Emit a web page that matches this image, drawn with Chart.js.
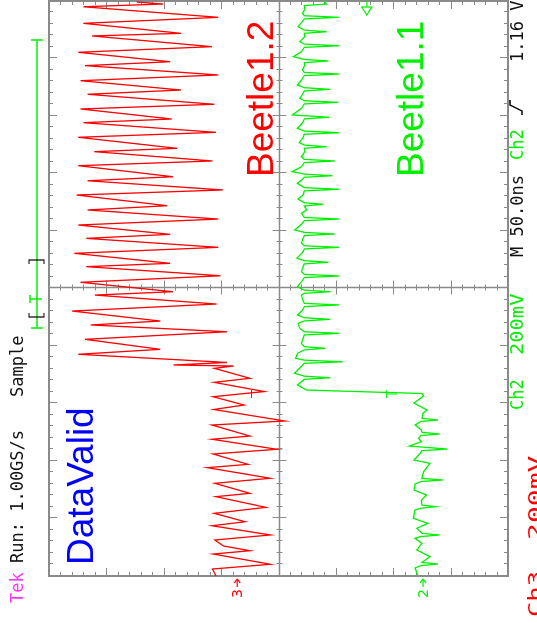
<!DOCTYPE html>
<html>
<head>
<meta charset="utf-8">
<title>Scope capture</title>
<script src="https://cdn.jsdelivr.net/npm/chart.js@4.4.1/dist/chart.umd.min.js"></script>
<style>
  html, body { margin: 0; padding: 0; background: #fff; overflow: hidden; }
  #wrap { position: relative; width: 537px; height: 623px; overflow: hidden; }
  /* the scope screen is shown turned a quarter turn to the left */
  #scope { position: absolute; left: 0; top: 0; transform-origin: 0 0; transform: translate(0, 623px) rotate(-90deg); }
</style>
</head>
<body>
<div id="wrap"><canvas id="scope" width="623" height="537"></canvas></div>
<script>
// Horizontal: 50 ns/div over 10 divisions. Vertical: 8 divisions, 0 = screen centre.
const timeRange = [0, 500];
const levelRange = [-4, 4];

// Ch3 (red, DataValid / Beetle1.2) - trace vertices, time in ns, level in divisions
const redTime = [0, 6.1, 10.2, 19.1, 22.0, 26.1, 31.3, 35.7, 43.7, 47.2,
  54.5, 59.7, 69.0, 71.9, 80.6, 85.0, 94.2, 97.1, 106.1, 110.2,
  118.9, 121.7, 131.3, 134.8, 144.8, 148.7, 155.9, 160.4, 168.4, 171.9,
  180.6, 182.6, 183.5, 185.7, 192.8, 197.1, 205.8, 212.4, 218.3, 221.7,
  230.4, 236.5, 244.3, 247.2, 255.4, 261.1, 269.0, 271.9, 280.6, 285.8,
  293.6, 297.1, 305.2, 310.4, 318.3, 322.0, 331.3, 335.7, 343.7, 347.2,
  356.8, 360.9, 369.0, 371.9, 381.5, 385.8, 394.2, 397.4, 406.1, 410.2,
  418.9, 422.6, 430.7, 435.7, 443.8, 447.2, 455.4, 460.3, 469.6, 471.9,
  480.6, 485.8, 495.0, 497.4, 499.1];
const redLevel = [1.09, 1.15, 0.14, 1.14, 0.50, 0.96, 1.11, 0.14, 1.16, 0.58,
  1.12, 0.22, 1.09, 0.50, 1.11, 0.14, 1.24, 0.53, 1.14, 0.03,
  1.16, 0.50, 1.16, -0.11, 1.13, 0.60, 1.14, 0.25, 1.12, 0.50,
  1.12, 0.78, 1.83, 0.90, 3.49, 2.06, 3.37, 0.90, 3.27, 2.06,
  3.60, 1.08, 3.20, 1.84, 3.45, 1.01, 3.35, 1.89, 3.56, 1.05,
  3.35, 1.89, 3.49, 1.05, 3.33, 1.94, 3.52, 0.97, 3.33, 1.84,
  3.49, 1.15, 3.21, 1.77, 3.49, 1.09, 3.40, 1.86, 3.45, 1.12,
  3.33, 1.70, 3.45, 1.05, 3.37, 1.89, 3.49, 1.16, 3.25, 1.70,
  3.40, 1.05, 3.40, 2.01, 2.47];

// Ch2 (green, Beetle1.1) - low section before the step, then the switching section
const greenTime = [0, 2.6, 7.0, 9.0, 10.4, 11.8, 16.8, 22.6, 28.4, 32.8,
  34.3, 35.7, 37.1, 41.5, 45.8, 50.2, 57.4, 58.9, 60.3, 61.7,
  66.1, 70.4, 74.8, 80.0, 82.1, 83.5, 84.9, 90.7, 98.0, 100.9,
  106.7, 109.0, 110.4, 113.0, 116.8, 119.7, 122.1, 123.5, 124.9, 127.0,
  131.3, 134.3, 135.7, 137.1, 141.7, 144.3, 150.4, 156.5, 158.7,
  161.7, 166.1, 171.0, 172.4, 173.8, 176.3, 184.9, 186.3, 187.7, 189.3,
  193.7, 196.6, 198.0, 199.4, 202.3, 206.7, 209.6, 211.0, 212.4, 215.4,
  219.7, 221.8, 223.2, 224.6, 227.0, 231.3, 234.3, 235.7, 237.1, 239.1,
  244.3, 245.8, 247.2, 248.6, 251.6, 255.9, 259.5, 260.9, 262.3, 264.6,
  269.0, 271.4, 272.8, 274.2, 276.3, 281.5, 284.4, 285.8, 287.2, 289.3,
  293.6, 296.0, 297.4, 298.8, 300.9, 305.8, 309.0, 310.4, 311.8, 315.4,
  318.3, 321.8, 323.2, 324.6, 327.8, 331.3, 334.9, 336.3, 337.7, 341.5,
  344.3, 346.7, 348.1, 349.5, 351.6, 355.9, 359.5, 360.9, 362.3, 364.6,
  369.0, 371.9, 373.3, 374.7, 376.8, 381.5, 384.1, 385.5, 386.9, 389.3,
  394.2, 397.5, 398.9, 400.9, 406.7, 410.5, 411.9, 413.3, 415.4, 419.7,
  421.8, 423.2, 424.6, 427.0, 431.3, 435.1, 436.5, 437.9, 440.0, 444.3,
  446.4, 447.8, 449.2, 451.6, 455.9, 459.7, 461.1, 462.5, 464.6, 469.0,
  471.9, 473.3, 474.7, 477.7, 481.2, 484.4, 485.8, 487.2, 489.3, 492.8,
  496.0, 497.4, 500];
const greenLevel = [-2.43, -2.41, -2.38, -2.48, -2.78, -2.50, -2.64, -2.41, -2.50, -2.38,
  -2.48, -2.81, -2.50, -2.41, -2.60, -2.35, -2.38, -2.48, -2.74, -2.50,
  -2.49, -2.58, -2.36, -2.38, -2.48, -2.86, -2.50, -2.53, -2.64, -2.36,
  -2.47, -2.50, -2.94, -2.28, -2.49, -2.44, -2.48, -2.81, -2.50, -2.49,
  -2.38, -2.48, -2.78, -2.50, -2.52, -2.59, -2.36, -2.53, -2.50,
  -0.49, -0.33, -0.45, -0.90, -0.45, -0.28, -0.45, -1.12, -0.45, -0.30,
  -0.33, -0.45, -0.82, -0.45, -0.40, -0.43, -0.45, -1.06, -0.45, -0.37,
  -0.34, -0.45, -0.90, -0.45, -0.33, -0.42, -0.45, -1.06, -0.45, -0.43,
  -0.40, -0.45, -0.91, -0.45, -0.33, -0.40, -0.45, -1.06, -0.45, -0.40,
  -0.43, -0.45, -0.87, -0.45, -0.32, -0.42, -0.45, -1.06, -0.45, -0.40,
  -0.43, -0.45, -0.98, -0.45, -0.28, -0.40, -0.45, -1.06, -0.45, -0.40,
  -0.49, -0.45, -0.78, -0.45, -0.34, -0.43, -0.45, -1.06, -0.45, -0.33,
  -0.40, -0.45, -0.94, -0.45, -0.24, -0.40, -0.45, -0.98, -0.45, -0.40,
  -0.46, -0.45, -0.84, -0.45, -0.36, -0.43, -0.45, -1.06, -0.45, -0.33,
  -0.42, -0.45, -0.89, -0.24, -0.40, -0.45, -1.04, -0.45, -0.37, -0.43,
  -0.45, -0.90, -0.45, -0.33, -0.40, -0.45, -1.06, -0.45, -0.42, -0.46,
  -0.45, -0.87, -0.45, -0.26, -0.40, -0.45, -1.06, -0.45, -0.37, -0.46,
  -0.45, -0.84, -0.45, -0.34, -0.40, -0.45, -1.06, -0.45, -0.42, -0.46,
  -0.45, -0.84, -0.78];

// channel ground markers, trigger level (divisions) and trigger point (ns)
const ch3Ground = 0.72;
const ch2Ground = -2.52;
const trigLevel = -1.54;
const trigTime = 158.3;
const trigMarkLevels = [0.47, -1.88];

const RED = '#ff0000';
const GREEN = '#00f000';
const GRID = '#8a8a8a';
const MONO = '17px "DejaVu Sans Mono"';

function toPoints(ts, vs) {
    return ts.map((t, i) => ({ x: t, y: vs[i] }));
}

function line(ctx, x1, y1, x2, y2) {
    ctx.beginPath();
    ctx.moveTo(x1, y1);
    ctx.lineTo(x2, y2);
    ctx.stroke();
}

// text stretched along the time axis (the wide readout font of the scope)
function wideText(ctx, txt, px, py, sx) {
    ctx.save();
    ctx.translate(px, py);
    ctx.scale(sx, 1);
    ctx.fillText(txt, 0, 0);
    ctx.restore();
}

// Graticule: frame, centre cross, 5 minor ticks per division
const graticule = {
    id: 'graticule',
    beforeDatasetsDraw(chart) {
        const { ctx, chartArea: a, scales: { x, y } } = chart;
        ctx.save();
        ctx.strokeStyle = GRID;
        ctx.lineWidth = 2;
        ctx.strokeRect(a.left, a.top, a.right - a.left, a.bottom - a.top);

        const cx = Math.round(x.getPixelForValue(250)) + 0.5;
        const cy = Math.round(y.getPixelForValue(0)) + 0.5;
        ctx.lineWidth = 1.5;
        line(ctx, a.left, cy, a.right, cy);
        line(ctx, cx, a.top, cx, a.bottom);

        ctx.lineWidth = 1;
        for (let i = 1; i < 50; i++) {
            const px = Math.round(x.getPixelForValue(i * 10)) + 0.5;
            const major = i % 5 === 0;
            const len = major ? 8 : 4;
            line(ctx, px, a.top, px, a.top + len);
            line(ctx, px, a.bottom, px, a.bottom - len);
            const c = major ? 7 : 3;
            line(ctx, px, cy - c, px, cy + c);
        }
        for (let j = 1; j < 40; j++) {
            const py = Math.round(y.getPixelForValue(levelRange[0] + j * 0.2)) + 0.5;
            const major = j % 5 === 0;
            const len = major ? 8 : 4;
            line(ctx, a.left, py, a.left + len, py);
            line(ctx, a.right, py, a.right - len, py);
            const c = major ? 7 : 3;
            line(ctx, cx - c, py, cx + c, py);
        }
        ctx.restore();
    }
};

// Readouts, labels and markers around the screen
const readouts = {
    id: 'readouts',
    afterDraw(chart) {
        const { ctx, chartArea: a, scales: { x, y } } = chart;
        ctx.save();
        ctx.textBaseline = 'alphabetic';

        // top status line
        ctx.font = MONO;
        ctx.fillStyle = '#ff33ff';
        ctx.fillText('Tek', 20, 23);
        ctx.fillStyle = '#111';
        ctx.fillText('Run: 1.00GS/s', 60, 23);
        ctx.fillText('Sample', 226, 23);

        // record view bar
        ctx.strokeStyle = GREEN;
        ctx.lineWidth = 1.5;
        line(ctx, 295, 37, 583, 37);
        line(ctx, 295, 31, 295, 43);
        line(ctx, 583, 31, 583, 43);
        line(ctx, 324, 30, 324, 42);
        line(ctx, 320, 30, 328, 30);
        ctx.strokeStyle = '#000';
        ctx.lineWidth = 1.2;
        ctx.beginPath();
        ctx.moveTo(310, 29); ctx.lineTo(306, 29); ctx.lineTo(306, 44); ctx.lineTo(310, 44);
        ctx.moveTo(359, 29); ctx.lineTo(363, 29); ctx.lineTo(363, 44); ctx.lineTo(359, 44);
        ctx.stroke();

        // trigger point marks on the traces
        const tx = x.getPixelForValue(trigTime);
        const ry = y.getPixelForValue(trigMarkLevels[0]);
        const gy = y.getPixelForValue(trigMarkLevels[1]);
        ctx.lineWidth = 1;
        ctx.strokeStyle = RED;
        line(ctx, tx - 4, ry, tx + 4, ry);
        ctx.strokeStyle = GREEN;
        line(ctx, tx - 4, gy, tx + 4, gy);
        line(ctx, tx, gy, tx, gy + 11);

        // channel labels
        ctx.font = '37px "Liberation Sans", Arial, sans-serif';
        ctx.fillStyle = '#0000ff';
        ctx.fillText('DataValid', 58, 93);
        ctx.fillStyle = RED;
        ctx.fillText('Beetle1.2', 446, 273);
        ctx.fillStyle = GREEN;
        ctx.fillText('Beetle1.1', 446, 423);

        // ground markers
        ctx.font = '14px "DejaVu Sans"';
        [[ch3Ground, RED, '3'], [ch2Ground, GREEN, '2']].forEach(([lvl, col, txt]) => {
            const py = y.getPixelForValue(lvl);
            ctx.fillStyle = col;
            ctx.strokeStyle = col;
            ctx.lineWidth = 1.2;
            ctx.fillText(txt, 25, py + 5);
            line(ctx, 36, py, 44, py);
            line(ctx, 40, py - 3, 44, py);
            line(ctx, 40, py + 3, 44, py);
        });

        // trigger level marker
        const ty = y.getPixelForValue(trigLevel);
        ctx.strokeStyle = GREEN;
        ctx.lineWidth = 1.2;
        line(ctx, a.right, ty, a.right - 6, ty);
        ctx.beginPath();
        ctx.moveTo(a.right - 6, ty - 5);
        ctx.lineTo(a.right - 14, ty);
        ctx.lineTo(a.right - 6, ty + 5);
        ctx.closePath();
        ctx.stroke();

        // bottom readouts
        ctx.font = MONO;
        ctx.fillStyle = GREEN;
        ctx.fillText('Ch2', 213, 523);
        wideText(ctx, '200mV', 268, 523, 1.2);
        ctx.fillStyle = '#111';
        ctx.fillText('M 50.0ns', 366, 523);
        ctx.fillStyle = GREEN;
        ctx.fillText('Ch2', 463, 523);
        ctx.strokeStyle = '#000';
        ctx.lineWidth = 1.3;
        ctx.beginPath();
        ctx.moveTo(508, 522); ctx.lineTo(512, 522); ctx.lineTo(518, 510); ctx.lineTo(523, 510);
        ctx.stroke();
        ctx.fillStyle = '#111';
        ctx.fillText('1.16 V', 561, 523);
        ctx.fillStyle = RED;
        wideText(ctx, 'Ch3', 6, 541, 1.5);
        wideText(ctx, '200mV', 83, 541, 1.65);
        ctx.restore();
    }
};

new Chart(document.getElementById('scope').getContext('2d'), {
    type: 'scatter',
    data: {
        datasets: [
            { label: 'Ch3', data: toPoints(redTime, redLevel), borderColor: RED },
            { label: 'Ch2', data: toPoints(greenTime, greenLevel), borderColor: GREEN }
        ]
    },
    options: {
        responsive: false,
        animation: false,
        showLine: true,
        layout: { padding: { left: 47, right: 1, top: 49, bottom: 29 } },
        elements: {
            point: { radius: 0 },
            line: { borderWidth: 1.3, tension: 0 }
        },
        scales: {
            x: { type: 'linear', min: timeRange[0], max: timeRange[1], display: false },
            y: { type: 'linear', min: levelRange[0], max: levelRange[1], display: false }
        },
        plugins: { legend: { display: false }, tooltip: { enabled: false } }
    },
    plugins: [graticule, readouts]
});
</script>
</body>
</html>
